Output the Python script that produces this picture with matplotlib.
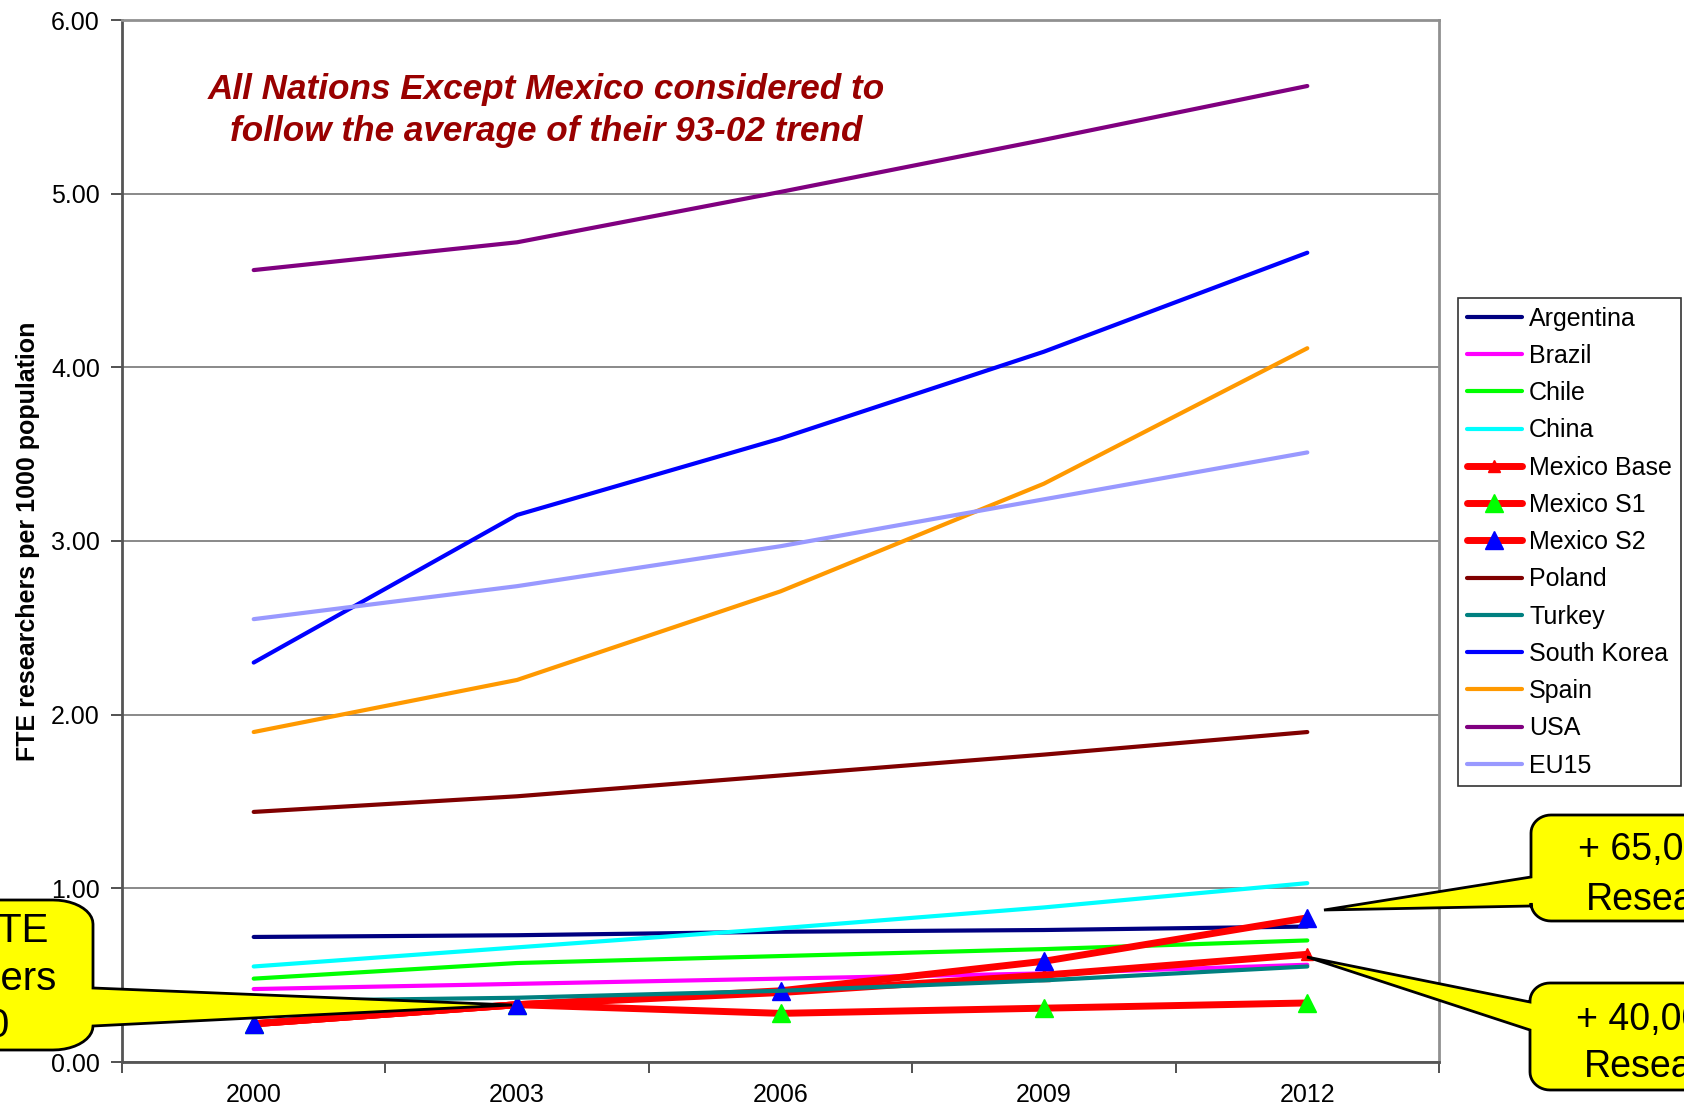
import numpy as np
import matplotlib
matplotlib.use("Agg")
import matplotlib.pyplot as plt
from matplotlib.patches import Polygon

plt.rcParams['font.family'] = ['Liberation Sans', 'DejaVu Sans']

W, H = 1684, 1111

years = ['2000', '2003', '2006', '2009', '2012']

argentina = [0.72, 0.73, 0.75, 0.76, 0.78]
brazil = [0.42, 0.45, 0.48, 0.51, 0.56]
chile = [0.48, 0.57, 0.61, 0.65, 0.70]
china = [0.55, 0.66, 0.77, 0.89, 1.03]
mexico_base = [0.22, 0.33, 0.40, 0.50, 0.62]
mexico_s1 = [0.22, 0.33, 0.28, 0.31, 0.34]
mexico_s2 = [0.22, 0.33, 0.41, 0.58, 0.83]
poland = [1.44, 1.53, 1.65, 1.77, 1.90]
turkey = [0.35, 0.37, 0.41, 0.47, 0.55]
south_korea = [2.30, 3.15, 3.59, 4.09, 4.66]
spain = [1.90, 2.20, 2.71, 3.33, 4.11]
usa = [4.56, 4.72, 5.01, 5.31, 5.62]
eu15 = [2.55, 2.74, 2.97, 3.24, 3.51]

series = [
    ("Argentina", argentina, "#000080", None, None),
    ("Brazil", brazil, "#FF00FF", None, None),
    ("Chile", chile, "#00FF00", None, None),
    ("China", china, "#00FFFF", None, None),
    ("Mexico Base", mexico_base, "#FF0000", "#FF0000", 9),
    ("Mexico S1", mexico_s1, "#FF0000", "#00FF00", 13),
    ("Mexico S2", mexico_s2, "#FF0000", "#0000FF", 13),
    ("Poland", poland, "#800000", None, None),
    ("Turkey", turkey, "#008080", None, None),
    ("South Korea", south_korea, "#0000FF", None, None),
    ("Spain", spain, "#FF9900", None, None),
    ("USA", usa, "#800080", None, None),
    ("EU15", eu15, "#9999FF", None, None),
]


def fx(x):
    return x / W


def fy(y):
    return 1 - y / H


def callout(fig, x0, y0, x1, y1, rx, ry, side, b0, b1, tip):
    # rounded box with a pointer wedge, given in image pixels (y down)
    def arc(cx, cy, a0, a1):
        t = np.linspace(np.radians(a0), np.radians(a1), 12)
        return [(cx + rx * np.cos(a), cy - ry * np.sin(a)) for a in t]

    pts = []
    pts += arc(x0 + rx, y0 + ry, 180, 90)
    pts += arc(x1 - rx, y0 + ry, 90, 0)
    if side == 'right':
        pts += [(x1, b0), tip, (x1, b1)]
    pts += arc(x1 - rx, y1 - ry, 0, -90)
    pts += arc(x0 + rx, y1 - ry, -90, -180)
    if side == 'left':
        pts += [(x0, b1), tip, (x0, b0)]
    pts = [(fx(px), fy(py)) for px, py in pts]
    poly = Polygon(pts, closed=True, facecolor='#FFFF00', edgecolor='black',
                   lw=2, transform=fig.transFigure, zorder=5)
    fig.add_artist(poly)


def callout_text(fig, cx, baselines, lines, size=27):
    for yb, s in zip(baselines, lines):
        fig.text(fx(cx), fy(yb), s, ha='center', va='baseline',
                 fontsize=size, color='black', zorder=6)


fig = plt.figure(figsize=(W / 100, H / 100), dpi=100)
ax = fig.add_axes([fx(122), fy(1062), fx(1439) - fx(122), fy(20) - fy(1062)])

x = np.arange(len(years))
for name, vals, col, mcol, ms in series:
    if mcol is None:
        ax.plot(x, vals, color=col, lw=3, label=name, solid_capstyle='round')
    else:
        ax.plot(x, vals, color=col, lw=5, marker='^', markersize=ms,
                markerfacecolor=mcol, markeredgecolor=mcol, label=name,
                solid_capstyle='round')

ax.set_xlim(-0.5, 4.5)
ax.set_ylim(0, 6)
ax.set_xticks(x)
ax.set_xticklabels(years)
ax.set_xticks(np.arange(-0.5, 5, 1), minor=True)
ax.tick_params(axis='x', which='major', length=0, pad=15, labelsize=18)
ax.tick_params(axis='x', which='minor', length=8, width=1.2, color='#333333',
               direction='out')
ax.set_yticks(np.arange(0, 7, 1))
ax.set_yticklabels(["%.2f" % v for v in range(7)])
ax.tick_params(axis='y', length=8, width=1.2, color='#333333', pad=8,
               labelsize=18, direction='out')

ax.grid(axis='y', color='#808080', lw=1.3)
ax.set_axisbelow(True)
for s in ['left', 'bottom']:
    ax.spines[s].set_color('#555555')
    ax.spines[s].set_linewidth(2)
for s in ['right', 'top']:
    ax.spines[s].set_color('#909090')
    ax.spines[s].set_linewidth(2)

ax.set_ylabel("FTE researchers per 1000 population", fontsize=18,
              fontweight='bold')
ax.yaxis.set_label_coords((40 - 122) / (1439 - 122), 0.5)

fig.text(fx(546), fy(89), "All Nations Except Mexico considered to",
         ha='center', va='center', fontsize=25.3, fontweight='bold',
         fontstyle='italic', color='#990000')
fig.text(fx(546), fy(132), "follow the average of their 93-02 trend",
         ha='center', va='center', fontsize=25.3, fontweight='bold',
         fontstyle='italic', color='#990000')

leg = ax.legend(loc='upper left', bbox_to_anchor=(fx(1458), fy(298)),
                bbox_transform=fig.transFigure, fontsize=18, frameon=True,
                fancybox=False, shadow=False, borderaxespad=0,
                handlelength=2.2, handletextpad=0.3, labelspacing=0.53,
                borderpad=0.35, numpoints=1)
leg.get_frame().set_edgecolor('black')
leg.get_frame().set_linewidth(1.2)

# callouts
callout(fig, -220, 900, 93, 1050, 40, 24, 'right', 988, 1026, (512, 1005))
callout_text(fig, -57, [942, 990, 1037], ["22,000 FTE", "Researchers", "in 2000"],
             size=29)

callout(fig, 1531, 815, 1860, 921, 20, 18, 'left', 877, 906, (1324, 910))
callout_text(fig, 1692, [860, 910], ["+ 65,000 FTE", "Researchers"])

callout(fig, 1530, 983, 1860, 1090, 20, 18, 'left', 1002, 1030, (1307, 957))
callout_text(fig, 1690, [1030, 1077], ["+ 40,000 FTE", "Researchers"])

fig.savefig("out.png", dpi=100)
